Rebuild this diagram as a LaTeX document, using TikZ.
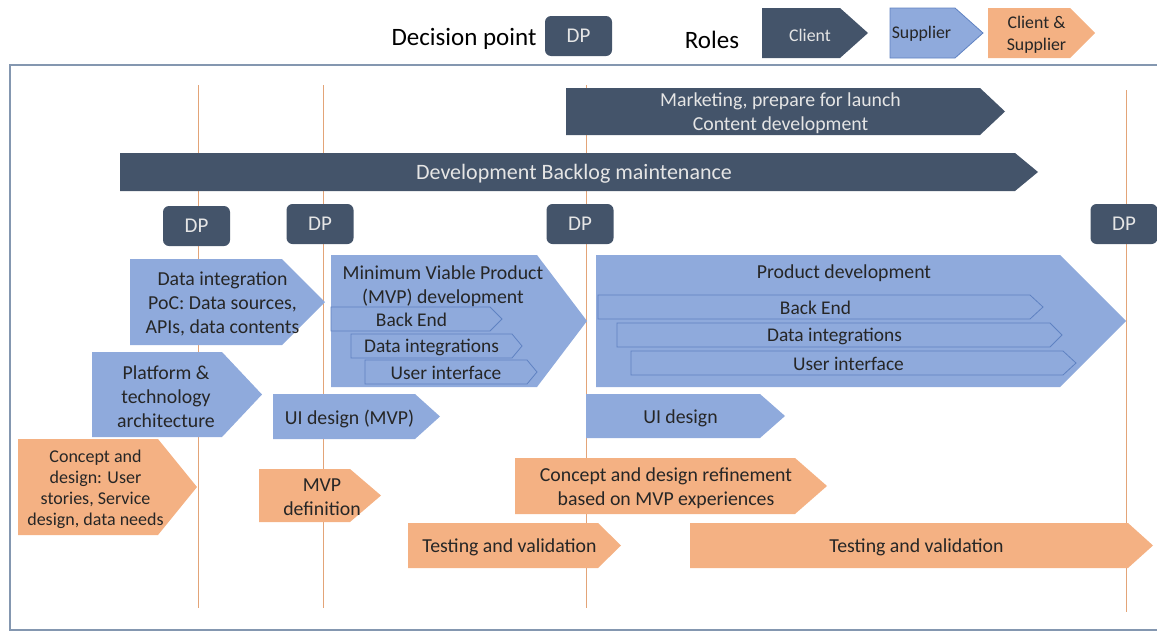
\documentclass[tikz,border=0pt]{standalone}
\usepackage{fontspec}
\setmainfont{Carlito}

\definecolor{clientcol}{HTML}{44546A}
\definecolor{suppliercol}{HTML}{8FAADC}
\definecolor{bothcol}{HTML}{F4B183}
\definecolor{edgecol}{HTML}{5F82C2}
\definecolor{framecol}{HTML}{8497B0}
\definecolor{milecol}{HTML}{E3A478}

\tikzset{
  client/.style={fill=clientcol},
  supplier/.style={fill=suppliercol},
  both/.style={fill=bothcol},
  sub/.style={fill=suppliercol,draw=edgecol,line width=0.4pt},
  client txt/.style={text=white!90!black,align=center,yshift=-1pt,font=\fontsize{9.9}{12}\selectfont},
  supplier txt/.style={text=black!85,align=center,yshift=-1pt,font=\fontsize{9.9}{12}\selectfont},
  both txt/.style={text=black!85,align=center,yshift=-1pt,font=\fontsize{9.9}{12}\selectfont},
  sub txt/.style={text=black!85,align=center,yshift=-0.5pt,font=\fontsize{9.7}{10}\selectfont},
  dpbox/.style={fill=clientcol,rounded corners=3pt,minimum width=33.5pt,minimum height=20pt,
    text=white!90!black,font=\fontsize{10.5}{11}\selectfont},
  mile/.style={draw=milecol,line width=0.5pt},
  legend/.style={font=\fontsize{12.5}{14}\selectfont,text=black}
}

% #1 node options, #2 style, #3 name, #4 left, #5 top, #6 body end, #7 tip, #8 bottom, #9 text
\newcommand\phase[9][]{%
  \path[#2] (#4,#5) -- (#6,#5) -- (#7,{(#5+#8)/2}) -- (#6,#8) -- (#4,#8) -- cycle;
  \node[#2 txt,#1] (#3) at ({(#4+#7)/2-5},{(#5+#8)/2}) {#9};}

\begin{document}
\begin{tikzpicture}[x=0.5pt,y=-0.5pt]
\useasboundingbox (0,0) rectangle (1157,632);

% legend
\node[legend] (dplabel) at (464,39) {Decision point};
\node[dpbox] (dplegend) at (578.5,36) {DP};
\node[legend] (roles) at (712,40) {Roles};
\phase[font=\fontsize{8.9}{11}\selectfont]{client}{legclient}{762}{8}{840}{868}{58}{Client}
\phase[font=\fontsize{8.9}{11}\selectfont,xshift=-5pt]{sub}{legsupplier}{890}{8}{955}{983}{58}{Supplier}
\phase[font=\fontsize{8.9}{11}\selectfont]{both}{legboth}{988}{8}{1070}{1095}{58}{Client \&\\Supplier}

% frame and decision lines
\draw[framecol,line width=1pt] (10,65) rectangle (1175,630);
\foreach \x in {198,323,586}{
  \draw[mile] (\x,85) -- (\x,608);}
\draw[mile] (1126,90) -- (1126,612);

% client tracks
\phase{client}{marketing}{566}{88}{980}{1005}{135}{Marketing, prepare for launch\\Content development}
\phase[font=\fontsize{11}{12}\selectfont]{client}{backlog}{120}{153}{1015}{1038}{191}{Development Backlog maintenance}

% decision points
\node[dpbox] (dp1) at (196.5,226) {DP};
\node[dpbox] (dp2) at (320,224) {DP};
\node[dpbox] (dp3) at (580,224) {DP};
\node[dpbox] (dp4) at (1124,224) {DP};

% supplier tracks
\phase{supplier}{dataint}{130}{259}{282}{325}{345}{Data integration\\PoC: Data sources,\\APIs, data contents}
\phase[xshift=-5.5pt,yshift=18.5pt]{supplier}{mvp}{331}{255}{537}{587}{387}{Minimum Viable Product\\(MVP) development}
\phase{sub}{mvpback}{331}{307}{490}{502}{331}{Back End}
\phase{sub}{mvpdata}{351}{334}{512}{522}{358}{Data integrations}
\phase{sub}{mvpui}{365}{360}{527}{537}{384}{User interface}
\phase[xshift=-3pt]{supplier}{platform}{92}{352}{222}{262}{437}{Platform \&\\technology\\architecture}
\phase[xshift=-1pt]{supplier}{uimvp}{273}{394}{415}{440}{439}{UI design (MVP)}
\phase[xshift=-6pt,yshift=25pt]{supplier}{product}{596}{255}{1060}{1126}{387}{Product development}
\phase{sub}{prodback}{598}{295}{1030}{1043}{319}{Back End}
\phase{sub}{proddata}{617}{323}{1050}{1062}{347}{Data integrations}
\phase{sub}{produi}{631}{351}{1063}{1076}{375}{User interface}
\phase{supplier}{uidesign}{586}{394}{760}{785}{438}{UI design}

% client & supplier tracks
\phase[xshift=-3.5pt,font=\fontsize{9}{10.5}\selectfont]{both}{concept}{18}{439}{158}{197}{535}{Concept and\\design: User\\stories, Service\\design, data needs}
\phase[xshift=3.5pt]{both}{mvpdef}{259}{469}{350}{381}{522}{MVP\\definition}
\phase{both}{refine}{515}{458}{795}{827}{514}{Concept and design refinement\\based on MVP experiences}
\phase{both}{test1}{408}{523}{598}{621}{568}{Testing and validation}
\phase{both}{test2}{690}{523}{1128}{1153}{568}{Testing and validation}

\end{tikzpicture}
\end{document}
